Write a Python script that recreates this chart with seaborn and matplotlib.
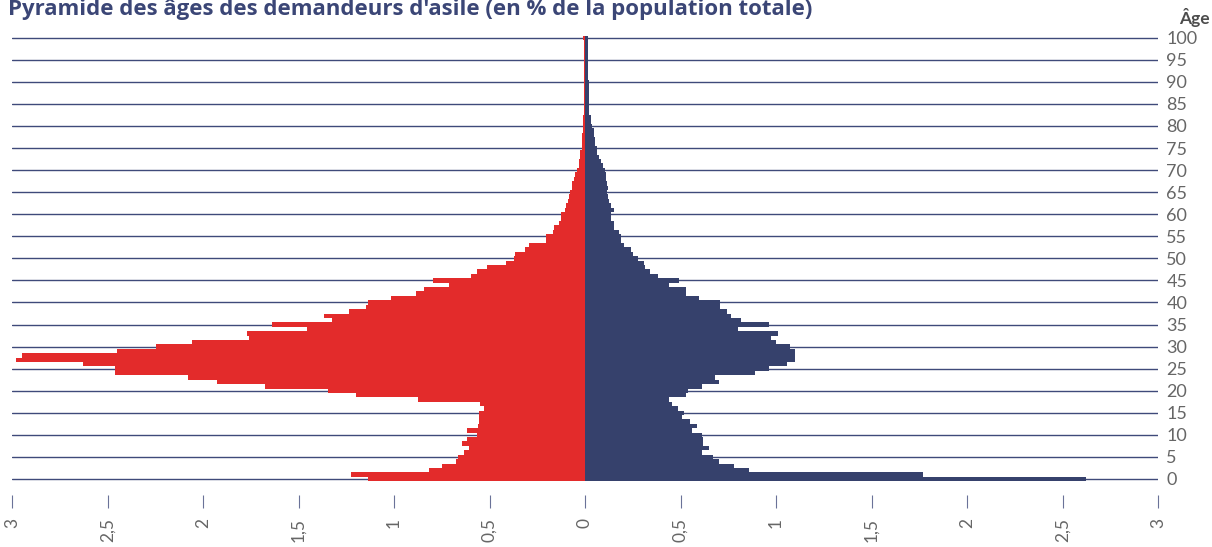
import numpy as np
import pandas as pd
import matplotlib
matplotlib.use("Agg")
import matplotlib.pyplot as plt
import seaborn as sns

# ---------------- data ----------------
ages = list(range(0, 101))

# left side (red), % of total population, by single year of age 0..100
values_left = [
    1.136, 1.225, 0.817, 0.747, 0.675, 0.665, 0.635, 0.609, 0.646, 0.616,   # 0-9
    0.565, 0.616, 0.560, 0.555, 0.555, 0.555, 0.527, 0.548, 0.876, 1.197,   # 10-19
    1.347, 1.677, 1.927, 2.079, 2.459, 2.459, 2.628, 2.979, 2.948, 2.449,   # 20-29
    2.248, 2.058, 1.757, 1.769, 1.457, 1.637, 1.325, 1.366, 1.236, 1.145,   # 30-39
    1.136, 1.016, 0.885, 0.845, 0.714, 0.796, 0.595, 0.564, 0.515, 0.414,   # 40-49
    0.373, 0.365, 0.316, 0.295, 0.205, 0.202, 0.169, 0.164, 0.138, 0.124,   # 50-59
    0.124, 0.106, 0.099, 0.089, 0.082, 0.077, 0.068, 0.068, 0.056, 0.051,   # 60-69
    0.042, 0.033, 0.033, 0.025, 0.025, 0.016, 0.016, 0.016, 0.016, 0.012,   # 70-79
    0.012, 0.012, 0.008, 0.005, 0.005, 0.005, 0.005, 0.005, 0.005, 0.005,   # 80-89
    0.005, 0.005, 0.005, 0.005, 0.005, 0.005, 0.005, 0.005, 0.005, 0.005,   # 90-99
    0.010,                                                                   # 100
]

# right side (navy)
values_right = [
    2.624, 1.772, 0.860, 0.781, 0.699, 0.671, 0.610, 0.650, 0.619, 0.619,   # 0-9
    0.610, 0.558, 0.589, 0.549, 0.509, 0.519, 0.488, 0.456, 0.439, 0.531,   # 10-19
    0.540, 0.610, 0.699, 0.683, 0.889, 0.962, 1.060, 1.100, 1.100, 1.100,   # 20-29
    1.071, 1.001, 0.973, 1.010, 0.802, 0.961, 0.819, 0.762, 0.741, 0.708,   # 30-39
    0.709, 0.599, 0.530, 0.530, 0.439, 0.490, 0.380, 0.339, 0.315, 0.308,   # 40-49
    0.280, 0.249, 0.243, 0.204, 0.190, 0.190, 0.178, 0.152, 0.152, 0.134,   # 50-59
    0.134, 0.152, 0.134, 0.126, 0.120, 0.117, 0.120, 0.115, 0.112, 0.112,   # 60-69
    0.103, 0.093, 0.086, 0.072, 0.063, 0.063, 0.054, 0.054, 0.045, 0.045,   # 70-79
    0.037, 0.030, 0.030, 0.023, 0.023, 0.023, 0.023, 0.023, 0.023, 0.023,   # 80-89
    0.023, 0.015, 0.015, 0.015, 0.015, 0.015, 0.015, 0.015, 0.015, 0.015,   # 90-99
    0.015,                                                                   # 100
]

x_ticks = [-3, -2.5, -2, -1.5, -1, -0.5, 0, 0.5, 1, 1.5, 2, 2.5, 3]
x_tick_labels = ["3", "2,5", "2", "1,5", "1", "0,5", "0", "0,5", "1", "1,5", "2", "2,5", "3"]
y_ticks = list(range(0, 101, 5))
y_tick_labels = [str(v) for v in y_ticks]

title = "Pyramide des âges des demandeurs d'asile (en % de la population totale)"
age_label = "Âge"

RED = "#e32b2b"
NAVY = "#36416c"
GRID = "#3f4a7a"
TEXT = "#666666"

# ---------------- plot ----------------
sns.set_theme(style="white")
plt.rcParams["font.family"] = ["Lato", "DejaVu Sans"]

W, H = 1212, 547
fig = plt.figure(figsize=(W / 100, H / 100), dpi=100)
ax_left, ax_right = 12, 1158
ax_top, ax_bottom = 35.5, 481.2
ax = fig.add_axes([ax_left / W, 1 - ax_bottom / H,
                   (ax_right - ax_left) / W, (ax_bottom - ax_top) / H])

df = pd.DataFrame({"age": ages,
                   "left": -np.array(values_left),
                   "right": np.array(values_right)})

sns.barplot(data=df, x="left", y="age", orient="h", native_scale=True,
            width=1.0, color=RED, saturation=1, errorbar=None,
            linewidth=0, ax=ax, zorder=3)
sns.barplot(data=df, x="right", y="age", orient="h", native_scale=True,
            width=1.0, color=NAVY, saturation=1, errorbar=None,
            linewidth=0, ax=ax, zorder=3)

ax.set_xlim(-3, 3)
ax.set_ylim(-0.5, 100.5)

for s in ax.spines.values():
    s.set_visible(False)
ax.spines["bottom"].set_position(("outward", 10))

# horizontal grid lines behind the bars
ax.set_yticks(y_ticks)
ax.set_yticklabels(y_tick_labels)
ax.yaxis.grid(True, color=GRID, linewidth=1.0, zorder=0)
ax.xaxis.grid(False)
ax.set_axisbelow(True)

ax.yaxis.tick_right()
ax.tick_params(axis="y", length=0, pad=6, labelsize=13, labelcolor=TEXT)

ax.set_xticks(x_ticks)
ax.set_xticklabels(x_tick_labels)
ax.tick_params(axis="x", bottom=True, direction="out", length=9.5, width=0.8,
               color="#6a7298", pad=7, labelsize=12.5, labelcolor=TEXT,
               labelrotation=90)

ax.set_xlabel("")
ax.set_ylabel("")

fig.text(8 / W, 1 - 15 / H, title, ha="left", va="baseline",
         fontsize=16, fontweight="bold", color="#3b4676",
         family=["Open Sans", "DejaVu Sans"])
fig.text(1210 / W, 1 - 24 / H, age_label, ha="right", va="baseline",
         fontsize=12.5, fontweight="bold", color="#4d4d4d")

fig.savefig("out.png", dpi=100)
